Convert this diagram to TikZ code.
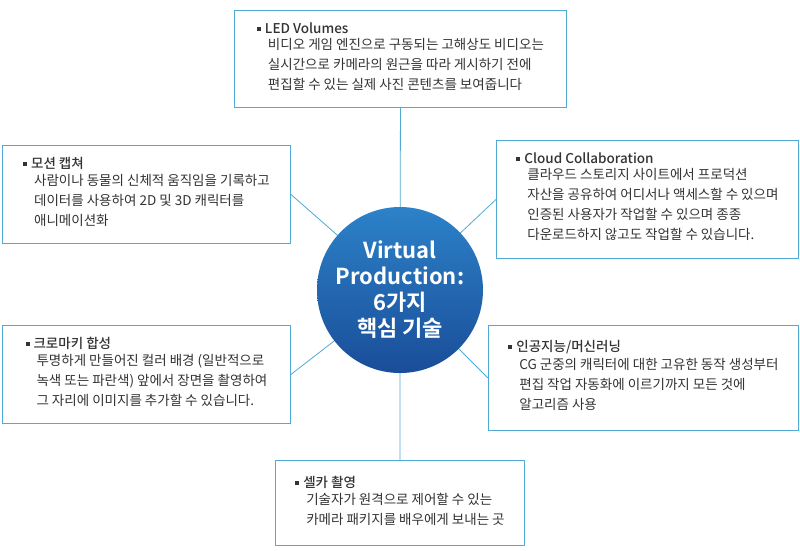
\documentclass[tikz,border=0pt]{standalone}
\usepackage{fontspec}
\setmainfont{Noto Sans CJK KR}
\newfontfamily\boldcjk{Noto Sans CJK KR Bold}
\newfontfamily\medcjk{Noto Sans CJK KR Medium}
\usetikzlibrary{backgrounds}
\definecolor{bline}{HTML}{4FAAD6}
\definecolor{txt}{HTML}{333333}
\definecolor{ctop}{HTML}{2C82C8}
\definecolor{cbot}{HTML}{1A4D99}
\tikzset{
  infobox/.style={draw=bline, line width=0.9pt, fill=white, anchor=north west, align=left,
    inner xsep=9pt, inner ysep=0pt, text=txt, font=\fontsize{13.5}{20}\selectfont},
  conn/.style={draw=bline, line width=0.8pt}
}
\newcommand{\btitle}[1]{{\fontsize{7}{7}\selectfont\raisebox{2.5pt}{\rule{4pt}{4pt}}}\hspace{4pt}{\medcjk\fontsize{13.5}{20}\selectfont #1}\\[1pt]}
\newcommand{\bbody}[1]{\hspace*{11pt}\begin{tabular}{@{}l@{}}#1\end{tabular}}
\begin{document}
\begin{tikzpicture}[x=1pt,y=-1pt]
\useasboundingbox (0,0) rectangle (800,550);
\node[circle, minimum size=166pt, inner sep=0pt, top color=ctop, bottom color=cbot, text=white,
  align=center, font=\boldcjk\fontsize{22}{26}\selectfont] (c) at (400,290)
  {Virtual\\Production:\\6가지\\핵심 기술};
\node[infobox, minimum width=332pt, minimum height=97pt] (led) at (234,10)
  {\btitle{LED Volumes}\bbody{비디오 게임 엔진으로 구동되는 고해상도 비디오는\\실시간으로 카메라의 원근을 따라 게시하기 전에\\편집할 수 있는 실제 사진 콘텐츠를 보여줍니다}};
\node[infobox, minimum width=288pt, minimum height=98pt] (mo) at (2,145)
  {\btitle{모션 캡쳐}\bbody{사람이나 동물의 신체적 움직임을 기록하고\\데이터를 사용하여 2D 및 3D 캐릭터를\\애니메이션화}};
\node[infobox, minimum width=302pt, minimum height=118pt] (cl) at (496,140)
  {\btitle{Cloud Collaboration}\bbody{클라우드 스토리지 사이트에서 프로덕션\\자산을 공유하여 어디서나 액세스할 수 있으며\\인증된 사용자가 작업할 수 있으며 종종\\다운로드하지 않고도 작업할 수 있습니다.}};
\node[infobox, minimum width=288pt, minimum height=98pt] (ch) at (2,325)
  {\btitle{크로마키 합성}\bbody{투명하게 만들어진 컬러 배경 (일반적으로\\녹색 또는 파란색) 앞에서 장면을 촬영하여\\그 자리에 이미지를 추가할 수 있습니다.}};
\node[infobox, minimum width=310pt, minimum height=105pt] (ai) at (488,325)
  {\btitle{인공지능/머신러닝}\bbody{CG 군중의 캐릭터에 대한 고유한 동작 생성부터\\편집 작업 자동화에 이르기까지 모든 것에\\알고리즘 사용}};
\node[infobox, minimum width=249pt, minimum height=85pt] (ce) at (275,460)
  {\btitle{셀카 촬영}\bbody{기술자가 원격으로 제어할 수 있는\\카메라 패키지를 배우에게 보내는 곳}};
\begin{scope}[on background layer]
\draw[conn] (led.south) -- (c.center);
\draw[conn] (ce.north) -- (c.center);
\draw[conn] (mo.east) -- (c.center);
\draw[conn] (ch.east) -- (c.center);
\draw[conn] (cl.west) -- (c.center);
\draw[conn] (ai.west) -- (c.center);
\end{scope}
\end{tikzpicture}
\end{document}
